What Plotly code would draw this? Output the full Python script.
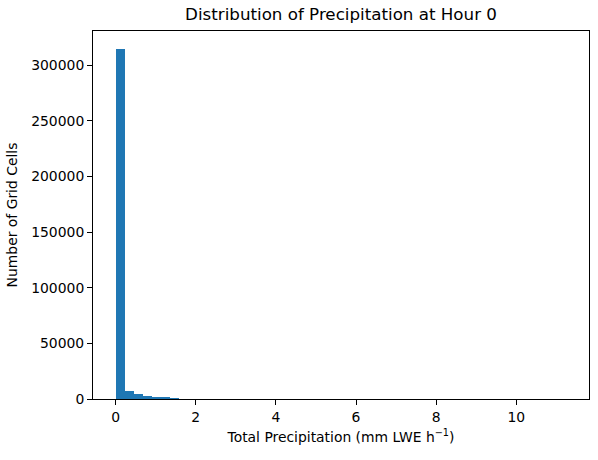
import numpy as np
import plotly.graph_objects as go

# Histogram data: 50 equal bins from 0 to max precipitation
bin_start = 0.0
bin_end = 11.25
n_bins = 50
counts = [315000, 7200, 4800, 3100, 2000, 1300, 900, 4, 4, 3,
          3, 3, 2, 2, 2, 2, 2, 1, 1, 1,
          1, 1, 1, 1, 1, 1, 1, 0, 1, 0,
          1, 0, 1, 0, 0, 1, 0, 0, 1, 0,
          0, 0, 1, 0, 0, 0, 0, 0, 0, 1]
y_ticks = [0, 50000, 100000, 150000, 200000, 250000, 300000]
x_ticks = [0, 2, 4, 6, 8, 10]

edges = np.linspace(bin_start, bin_end, n_bins + 1)
centers = (edges[:-1] + edges[1:]) / 2
width = edges[1] - edges[0]

fig = go.Figure(go.Bar(x=centers, y=counts, width=width,
                       marker=dict(color="#1f77b4", line=dict(width=0))))

span = bin_end - bin_start
fig.update_layout(
    width=598, height=460,
    margin=dict(l=93, r=9, t=31, b=61),
    plot_bgcolor="white", paper_bgcolor="white",
    font=dict(family="DejaVu Sans", size=13.9, color="black"),
    bargap=0,
    showlegend=False,
    title=dict(text="Distribution of Precipitation at Hour 0",
               x=(93 + 589) / 2 / 598, xanchor="center",
               y=1 - 14 / 460, yanchor="middle",
               font=dict(size=16.7)),
    xaxis=dict(range=[bin_start - 0.05 * span, bin_end + 0.05 * span],
               tickvals=x_ticks, ticks="outside", ticklen=5, tickwidth=1,
               tickcolor="black", showline=True, linecolor="black",
               linewidth=1, mirror=True, showgrid=False, zeroline=False,
               tickfont=dict(size=13.9),
               title=dict(text="Total Precipitation (mm LWE h<sup>\u22121</sup>)",
                          standoff=8, font=dict(size=13.9))),
    yaxis=dict(range=[0, max(counts) * 1.05], tickvals=y_ticks,
               tickformat="d", tickfont=dict(size=13.9),
               ticks="outside", ticklen=5, tickwidth=1,
               tickcolor="black", showline=True, linecolor="black",
               linewidth=1, mirror=True, showgrid=False, zeroline=False,
               title=dict(text="Number of Grid Cells", standoff=10,
                          font=dict(size=13.9))),
)
fig.write_html("out.html")
